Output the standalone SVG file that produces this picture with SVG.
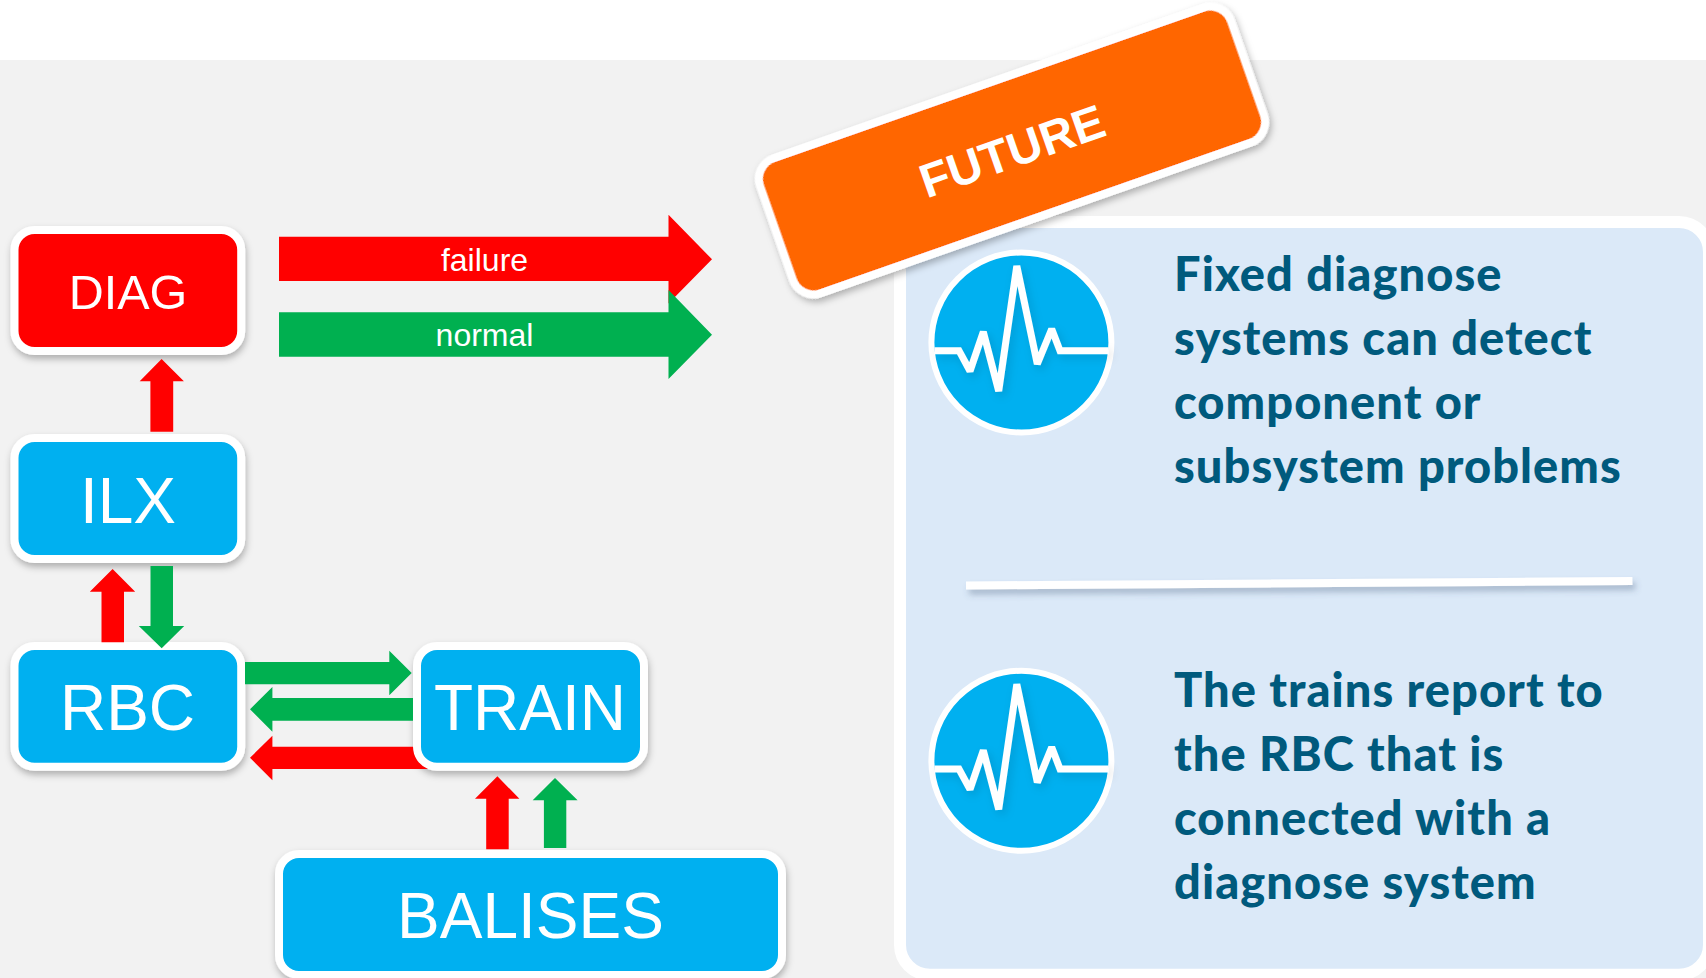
<svg xmlns="http://www.w3.org/2000/svg" xmlns:xlink="http://www.w3.org/1999/xlink" width="1706" height="978" viewBox="0 0 1706 978">
<defs>
<filter id="sh" x="-15%" y="-15%" width="130%" height="135%"><feDropShadow dx="1" dy="4" stdDeviation="3.5" flood-color="#000" flood-opacity="0.28"/></filter>
<filter id="shl" x="-5%" y="-300%" width="110%" height="800%"><feDropShadow dx="3" dy="5" stdDeviation="3" flood-color="#405a78" flood-opacity="0.35"/></filter>
<filter id="shp" x="-10%" y="-10%" width="120%" height="120%"><feDropShadow dx="3" dy="4" stdDeviation="5" flood-color="#000" flood-opacity="0.12"/></filter>
<g id="pulse-icon">
<circle cx="1021.4" cy="342.5" r="90" fill="#00B0F0" stroke="#fff" stroke-width="6"/>
<path d="M934.5 350.7H959L970 371L983.3 332L998.7 391L1016.8 266L1037.3 364L1051.7 329L1060 350.7H1108.5" fill="none" stroke="#fff" stroke-width="7" stroke-linejoin="miter" stroke-miterlimit="2" filter="url(#shp)"/>
</g>
</defs>
<style>
.node{stroke:#fff;stroke-width:8;filter:url(#sh)}
.blue{fill:#00B0F0}
.red{fill:#FF0000}
.green{fill:#00B050}
.lab{font-family:"Liberation Sans",Arial,sans-serif;fill:#fff;text-anchor:middle}
.big{font-size:64px}
.body{font-family:Lato,"Open Sans",sans-serif;font-weight:900;font-size:47px;letter-spacing:1.05px;fill:#005A7D}
</style>
<rect width="1706" height="978" fill="#fff"/>
<rect y="60" width="1706" height="918" fill="#F2F2F2"/>
<g id="panel">
<rect x="900" y="222" width="809" height="752.7" rx="30" fill="#DBE9F8" stroke="#fff" stroke-width="12"/>
<use href="#pulse-icon" xlink:href="#pulse-icon"/>
<use href="#pulse-icon" xlink:href="#pulse-icon" y="418.3"/>
<path d="M966 585.5L1632.4 581" stroke="#fff" stroke-width="8" fill="none" filter="url(#shl)"/>
<text class="body"><tspan x="1174" y="291">Fixed diagnose</tspan><tspan x="1174" y="355">systems can detect</tspan><tspan x="1174" y="419">component or</tspan><tspan x="1174" y="483">subsystem problems</tspan></text>
<text class="body"><tspan x="1174" y="706.7">The trains report to</tspan><tspan x="1174" y="770.7">the RBC that is</tspan><tspan x="1174" y="834.7">connected with a</tspan><tspan x="1174" y="898.7">diagnose system</tspan></text>
</g>
<g id="future" transform="rotate(-19.3 1012 150.5)">
<rect x="762.5" y="79" width="499" height="143" rx="22" fill="#FF6600" stroke="#fff" stroke-width="8" filter="url(#sh)"/>
<text x="1012" y="167.5" class="lab" font-size="47.5" font-weight="700">FUTURE</text>
</g>
<g id="node-diag"><rect class="node red" x="14.5" y="230" width="226.7" height="121" rx="20"/><text class="lab" x="128" y="309" font-size="48.5">DIAG</text></g>
<g id="node-ilx"><rect class="node blue" x="14.5" y="438" width="226.7" height="121" rx="20"/><text class="lab big" x="128" y="522.7">ILX</text></g>
<g id="node-rbc"><rect class="node blue" x="14.5" y="646" width="226.7" height="120.7" rx="20"/><text class="lab big" x="127.5" y="730">RBC</text></g>
<g id="node-train"><rect class="node blue" x="417" y="646" width="227" height="120.7" rx="20"/><text class="lab big" x="530" y="730">TRAIN</text></g>
<g id="node-balises"><rect class="node blue" x="279" y="854" width="503" height="121" rx="20"/><text class="lab big" x="530.5" y="938">BALISES</text></g>
<g id="connectors">
<polygon class="red" points="279,236.7 668.5,236.7 668.5,214.7 712,259.3 668.5,303.5 668.5,281 279,281"/>
<polygon class="green" points="279,312.3 668.5,312.3 668.5,290 712,334.7 668.5,379 668.5,356.7 279,356.7"/>
<polygon class="red" points="150.4,431.7 150.4,381.3 139.7,381.3 161.6,359 183.9,381.3 173.2,381.3 173.2,431.7"/>
<polygon class="red" points="101.5,642.3 101.5,591.7 89.8,591.7 112.6,569 135.2,591.7 124,591.7 124,642.3"/>
<polygon class="green" points="150.5,566 173,566 173,626 184.2,626 161.7,648.3 138.8,626 150.5,626"/>
<polygon class="green" points="245,662 389.3,662 389.3,650.7 411.7,673 389.3,695.3 389.3,684.3 245,684.3"/>
<polygon class="green" points="413,698 272.4,698 272.4,687 250,709.3 272.4,731.7 272.4,720.7 413,720.7"/>
<path class="red" d="M413 746.7H272.4V735.7L250 757.8L272.4 780.3V769H428A24 24 0 0 1 413 746.7Z"/>
<polygon class="red" points="486.2,849.3 486.2,798.7 475,798.7 497.4,776.3 519.4,798.7 508.7,798.7 508.7,849.3"/>
<polygon class="green" points="543.9,848 543.9,800.3 532.7,800.3 555,778 577.6,800.3 566.3,800.3 566.3,848"/>
</g>
<text class="lab" x="484.5" y="271" font-size="32">failure</text>
<text class="lab" x="484.5" y="345.7" font-size="32">normal</text>
</svg>
